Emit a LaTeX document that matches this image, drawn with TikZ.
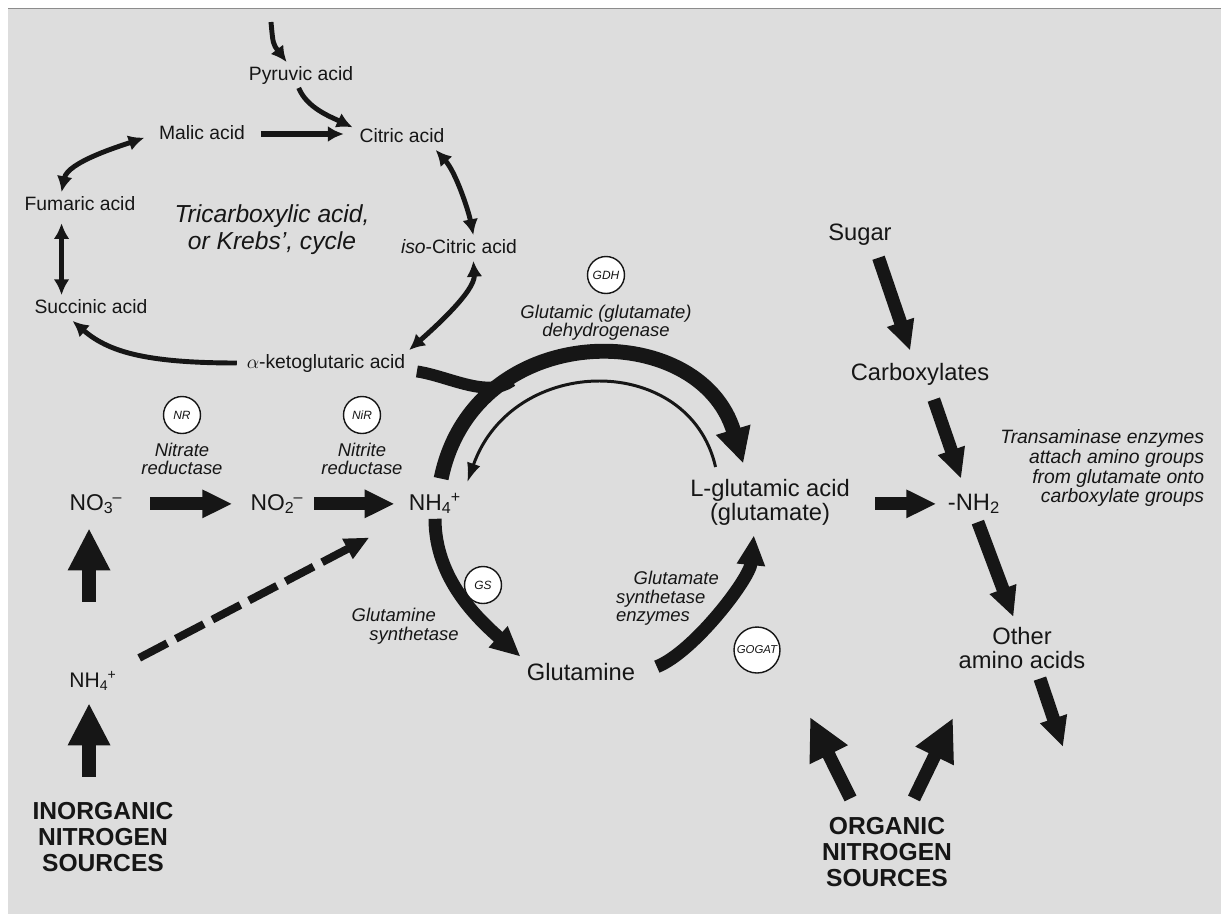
\documentclass[tikz,border=0pt]{standalone}
\usepackage{fontspec}
\setmainfont{Liberation Sans}
\usetikzlibrary{positioning}
\usetikzlibrary{arrows.meta}
\usetikzlibrary{calc}

\definecolor{panelgray}{RGB}{221,221,221}
\definecolor{edgegray}{RGB}{140,140,140}
\definecolor{ink}{RGB}{22,22,22}

\newcommand{\krebsfont}{\fontsize{11}{13}\selectfont}
\newcommand{\cyclefont}{\fontsize{14}{15.3}\selectfont\itshape}
\newcommand{\enzfont}{\fontsize{10.5}{10.4}\selectfont\itshape}
\newcommand{\chemfont}{\fontsize{13.5}{13.5}\selectfont}
\newcommand{\ionfont}{\fontsize{13}{14}\selectfont}
\newcommand{\notefont}{\fontsize{11}{11.2}\selectfont\itshape}
\newcommand{\sourcefont}{\fontsize{14}{14.8}\selectfont\bfseries}
\newcommand{\chemion}[2]{\textsubscript{#1}\kern-0.5pt\textsuperscript{#2}}

\begin{document}
\begin{tikzpicture}[
		x=0.02cm, y=-0.02cm,
		every node/.append style={text=ink},
		% Style definitions for text nodes
		krebs/.style={font=\krebsfont, inner sep=2pt, text height=8pt, text depth=2.3pt, anchor=base},
		chem/.style={font=\chemfont, inner sep=2pt, text height=9.8pt, text depth=2.8pt, anchor=base},
		ion/.style={font=\ionfont, inner sep=2pt, text height=9.8pt, text depth=2.8pt, anchor=base},
		enzyme/.style={circle, draw=ink, fill=white, line width=0.8pt, minimum size=0.74cm, inner sep=0pt, font=\fontsize{6.8}{7}\selectfont\itshape},
		enzname/.style={font=\enzfont, inner sep=2pt, align=center},
		source/.style={font=\sourcefont, inner sep=2pt, align=center},
		% Arrow styles
		krebsarrow/.style={draw=ink, line width=2.8pt, -{Latex[length=9pt,width=9pt]}},
		krebsboth/.style={draw=ink, line width=2.8pt, {Latex[length=9pt,width=9pt]}-{Latex[length=9pt,width=9pt]}},
		fatarrow/.style={draw=ink, line width=7.4pt, -{Triangle[length=17pt,width=15pt]}},
		uparrow/.style={draw=ink, line width=7.5pt, -{Triangle[length=24pt,width=22.5pt]}},
		gdharc/.style={draw=ink, line width=8.5pt, -{Triangle[length=20pt,width=19pt]}},
		thinarc/.style={draw=ink, line width=1.7pt, -{Latex[length=11pt,width=8pt]}},
		dasharrow/.style={draw=ink, line width=4.5pt, dash pattern=on 18pt off 5.5pt, -{Triangle[length=14pt,width=12pt]}},
		]
		% === Panel background ===
		\useasboundingbox (0,0) rectangle (1221,914);
		\fill[white] (0,0) rectangle (1221,914);
		\fill[panelgray] (8,9) rectangle (1221,914);
		\draw[edgegray, line width=1pt] (8,8.5) -- (1221,8.5);

		% === Krebs cycle ===
		\node[krebs] (pyruvic) at (301,80) {Pyruvic acid};
		\node[krebs] (citric) at (402,142) {Citric acid};
		\node[krebs] (malic) at (202,139) {Malic acid};
		\node[krebs] (fumaric) at (80,210) {Fumaric acid};
		\node[krebs] (succinic) at (91,313) {Succinic acid};
		\node[krebs] (isocitric) at (459,253) {\textit{iso}-Citric acid};
		\node[krebs] (akg) at (326,368) {$\alpha$-ketoglutaric acid};
		\node[font=\cyclefont, inner sep=2pt, align=center] (cycle) at (272,230) {Tricarboxylic acid,\\or Krebs', cycle};
		\coordinate (pyrtop) at (271,22);

		% === Inorganic nitrogen ===
		\node[ion] (no3) at (96,510) {NO\chemion{3}{\textendash}};
		\node[ion] (no2) at (277,510) {NO\chemion{2}{\textendash}};
		\node[ion] (nh4) at (435,510) {NH\chemion{4}{+}};
		\node[ion, font=\fontsize{12}{13}\selectfont, text height=8.8pt, text depth=2.5pt] (nh4low) at (93,687) {NH\chemion{4}{+}};
		\node[source] (inorg) at (103,837) {INORGANIC\\NITROGEN\\SOURCES};

		% === Enzymes and their names ===
		\node[enzyme] (nr) at (182,415) {NR};
		\node[enzyme] (nir) at (362,415) {NiR};
		\node[enzyme] (gdh) at (606,275) {GDH};
		\node[enzyme] (gs) at (483,585) {GS};
		\node[enzyme, minimum size=0.92cm, font=\fontsize{6.5}{7}\selectfont\itshape] (gogat) at (757,650) {GOGAT};
		\node[enzname, below=3pt of nr] (nrname) {Nitrate\\reductase};
		\node[enzname, below=3pt of nir] (nirname) {Nitrite\\reductase};
		\node[enzname, below=4pt of gdh] (gdhname) {Glutamic (glutamate)\\dehydrogenase};
		\node[enzname, align=left, below left=3.4pt and 4pt of gs] (gsname) {Glutamine\\\hspace*{10pt}synthetase};
		\node[enzname, align=left, above left=2.4pt and 10pt of gogat] (gogatname) {\hspace*{10pt}Glutamate\\synthetase\\enzymes};

		% === Glutamate and amino acids ===
		\node[chem] (glutamine) at (581,680) {Glutamine};
		\node[font=\chemfont, inner sep=2pt, align=center] (glutamic) at (770,502) {L-glutamic acid\\(glutamate)};
		\node[chem] (nh2) at (974,510) {-NH\textsubscript{2}};
		\node[chem] (sugar) at (860,240) {Sugar};
		\node[chem] (carbox) at (920,380) {Carboxylates};
		\node[font=\chemfont, inner sep=2pt, align=center] (others) at (1022,648) {Other\\amino acids};
		\node[font=\notefont, inner sep=2pt, align=right, anchor=north east] (transam) at (1208,426) {Transaminase enzymes\\attach amino groups\\from glutamate onto\\carboxylate groups};
		\node[source] (organic) at (887,852) {ORGANIC\\NITROGEN\\SOURCES};
		\coordinate (othersout) at (1063,747);
		\coordinate (orgleft) at (810,717);
		\coordinate (orgright) at (953,718);

		% === Arrows: Krebs cycle ===
		\draw[krebsarrow] (pyrtop) .. controls +(2,22) .. (pyruvic.138);
		\draw[krebsarrow, shorten >=2pt] (pyruvic.-100) .. controls +(8,20) and +(-25,-12) .. (citric.170);
		\draw[krebsarrow, line width=3.6pt, shorten <=6.8pt, shorten >=6.8pt] (malic.east) -- (malic.east -| citric.west);
		\draw[krebsboth, shorten <=6.5pt] (malic.west) .. controls +(-35,12) and +(6,-30) .. (fumaric.145);
		\draw[krebsboth, shorten <=3pt] (fumaric.-145) -- (fumaric.-145 |- succinic.north);
		\draw[krebsarrow, shorten <=3.5pt] (akg.west) .. controls +(-100,0) and +(35,30) .. (succinic.-145);
		\draw[krebsboth] (citric.-21) .. controls +(20,22) and +(-5,-25) .. (isocitric.42);
		\draw[krebsboth] (isocitric.-42) .. controls +(2,30) and +(25,-22) .. (akg.north east);

		% === Arrows: nitrate to ammonium ===
		\draw[fatarrow, shorten <=13.7pt, shorten >=8.2pt] (no3.east) -- (no3.east -| no2.west);
		\draw[fatarrow, shorten <=4pt, shorten >=6pt] (no2.east) -- (no2.east -| nh4.west);
		\draw[uparrow, shorten <=37.4pt, shorten >=5.4pt] (nh4low.106) -- (nh4low.106 |- no3.south);
		\draw[uparrow, shorten <=12.4pt, shorten >=4.5pt] (inorg.north -| nh4low.-106) -- (nh4low.-106);
		\draw[dasharrow, shorten <=12pt, shorten >=23pt] (nh4low.north east) -- (nh4.south west);

		% === Arrows: GDH, GS and GOGAT ===
		\draw[gdharc, shorten <=6pt, shorten >=7pt] (nh4.75) .. controls +(35,-171) and +(-47,-158) .. (glutamic.131) coordinate[pos=0.3] (gdhjoin);
		\draw[gdharc, -, line width=6.8pt, shorten <=4.5pt] (akg.-5) .. controls +(40,6) and +(-25,18) .. (gdhjoin);
		\draw[thinarc, shorten <=4.8pt, shorten >=4pt] (glutamic.153) .. controls +(-28,-123) and +(48,-136) .. (nh4.north east);
		\draw[fatarrow, shorten >=2pt] (nh4.south) .. controls +(0,60) and +(-45,-40) .. (glutamine.north west);
		\draw[fatarrow, shorten <=11pt, shorten >=3.7pt] (glutamine.east) .. controls +(55,-22) and +(-5,50) .. (glutamic.-120);

		% === Arrows: transamination ===
		\draw[fatarrow, shorten <=5.4pt, shorten >=5pt] (sugar.-44) -- (carbox.115);
		\draw[fatarrow, shorten <=6.5pt, shorten >=6.2pt] (carbox.-56) -- (nh2.122);
		\draw[fatarrow, shorten <=12.2pt, shorten >=4.4pt] (glutamic.east |- nh2.west) -- (nh2.west);
		\draw[fatarrow, shorten <=2pt, shorten >=4pt] (nh2.-80) -- (others.104);
		\draw[fatarrow, shorten <=3.7pt] (others.-57) -- (othersout);
		\draw[uparrow, shorten <=9.5pt] (organic.127) -- (orgleft);
		\draw[uparrow, shorten <=9.5pt] (organic.63) -- (orgright);
	\end{tikzpicture}
\end{document}
